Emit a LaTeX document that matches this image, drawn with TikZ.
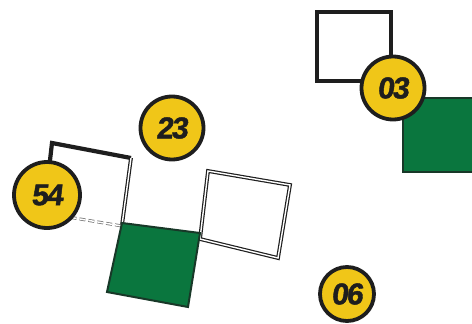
\documentclass[tikz,border=0pt]{standalone}
\usepackage{fontspec}
\newfontfamily\numfont{Liberation Sans}[FakeSlant=0.12,FakeBold=1.5,LetterSpace=-6]
\definecolor{badgeY}{RGB}{240,198,24}
\definecolor{boxG}{RGB}{10,118,62}
\definecolor{inkD}{RGB}{30,30,30}
\tikzset{
  badge/.style={circle, draw=inkD, line width=3.8pt, fill=badgeY, inner sep=0pt,
    font=\numfont\bfseries\fontsize{30}{30}\selectfont, text=inkD},
  plainbox/.style={draw=inkD, line width=4.2pt, line join=miter},
  dblbox/.style={draw=inkD, line width=1.2pt, double=white, double distance=1.4pt, line join=miter},
  greenbox/.style={fill=boxG, draw=inkD!70!boxG, line width=2pt, line join=miter}
}
\begin{document}
\begin{tikzpicture}[x=1pt,y=-1pt]
\useasboundingbox (0,0) rectangle (472,324);
% top-right white square
\draw[plainbox] (317,12) rectangle (391,81);
% right green square (cut by frame)
\begin{scope}
\clip (0,0) rectangle (472,324);
\draw[greenbox] (403,98) rectangle (480,172);
\end{scope}
% left white square
\draw[plainbox] (44,212) -- (52,143) -- (131,158);
\draw[dblbox] (131,158) -- (122,225);
\draw[dblbox, line width=0.8pt, draw=inkD!60, dashed, dash pattern=on 6pt off 3pt] (44,213) -- (122,226);
% middle white square (double outline)
\draw[dblbox] (208,171) -- (290,185) -- (278,258) -- (200,239) -- cycle;
% bottom green square
\draw[greenbox] (122,223) -- (200,233) -- (188,307) -- (107,292) -- cycle;
% badges
\node[badge, minimum size=63pt] (b23) at (172,128) {23};
\node[badge, minimum size=66pt] (b54) at (47,195) {54};
\node[badge, minimum size=63pt] (b03) at (393,88) {03};
\node[badge, minimum size=54pt] (b06) at (347,294) {06};
\end{tikzpicture}
\end{document}
